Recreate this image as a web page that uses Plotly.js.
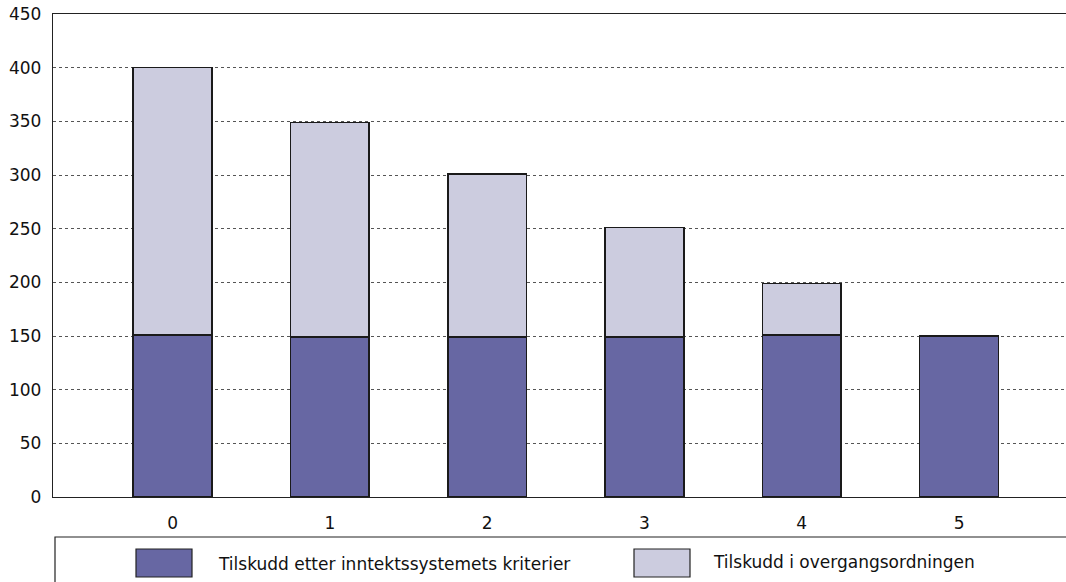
<!DOCTYPE html>
<html><head><meta charset="utf-8">
<script src="https://cdn.plot.ly/plotly-3.0.1.min.js"></script>
<style>body{margin:0;background:#fff}#c{width:1066px;height:582px}</style>
</head><body><div id="c"></div>
<script>
const categories = ["0","1","2","3","4","5"];
const seriesNames = ["Tilskudd etter inntektssystemets kriterier","Tilskudd i overgangsordningen"];
const kriterier = [151, 149, 149, 149, 151, 150];
const overgang = [249, 200, 152, 102, 48, 0];
const yTicks = [0,50,100,150,200,250,300,350,400,450];

const W=1066,H=582,L=53,R=0,T=14,B=85;
const pw=W-L-R, ph=H-T-B;
const px=x=>(x-L)/pw, py=y=>(H-B-y)/ph;
const colors=["#6767a3","#ccccdf"];
const fontFam="'DejaVu Sans', sans-serif";

const traces=[kriterier,overgang].map((v,i)=>({
  type:"bar", x:categories.map(Number), y:v, name:seriesNames[i],
  width:0.5, marker:{color:colors[i], line:{color:"#1a1a1a", width:1.5}},
  showlegend:false, hoverinfo:"y"
}));

const shapes=[
  {type:"rect",xref:"paper",yref:"paper",x0:px(55),x1:px(1080),y0:py(537),y1:py(600),line:{color:"#222",width:1.2},fillcolor:"rgba(0,0,0,0)"},
  {type:"rect",xref:"paper",yref:"paper",x0:px(136),x1:px(192),y0:py(549),y1:py(577),line:{color:"#222",width:1.2},fillcolor:colors[0]},
  {type:"rect",xref:"paper",yref:"paper",x0:px(634),x1:px(690),y0:py(549),y1:py(577),line:{color:"#222",width:1.2},fillcolor:colors[1]}
];
const annotations=[
  {xref:"paper",yref:"paper",x:px(216),y:py(564),text:seriesNames[0],showarrow:false,xanchor:"left",yanchor:"middle",font:{family:fontFam,size:17,color:"#111"}},
  {xref:"paper",yref:"paper",x:px(711),y:py(562),text:seriesNames[1],showarrow:false,xanchor:"left",yanchor:"middle",font:{family:fontFam,size:17,color:"#111"}}
];

const layout={
  width:W,height:H,margin:{l:L,r:R,t:T,b:B,pad:0},
  paper_bgcolor:"#fff",plot_bgcolor:"#fff",
  barmode:"stack",
  font:{family:fontFam,size:17,color:"#111"},
  xaxis:{type:"linear",range:[-0.76,5.68],tickvals:categories.map(Number),ticktext:categories,
    showgrid:false,zeroline:false,showline:true,mirror:true,linecolor:"#222",linewidth:1.2,
    ticks:"",ticklabelstandoff:10,fixedrange:true},
  yaxis:{range:[0,450],tickvals:yTicks,ticktext:yTicks.map(String),
    showgrid:true,gridcolor:"#555",griddash:"dot",gridwidth:1,zeroline:false,
    showline:true,linecolor:"#222",linewidth:1.2,ticks:"",ticklabelstandoff:7,fixedrange:true},
  shapes:shapes,annotations:annotations
};
Plotly.newPlot("c",traces,layout,{displayModeBar:false,staticPlot:true});
</script></body></html>
